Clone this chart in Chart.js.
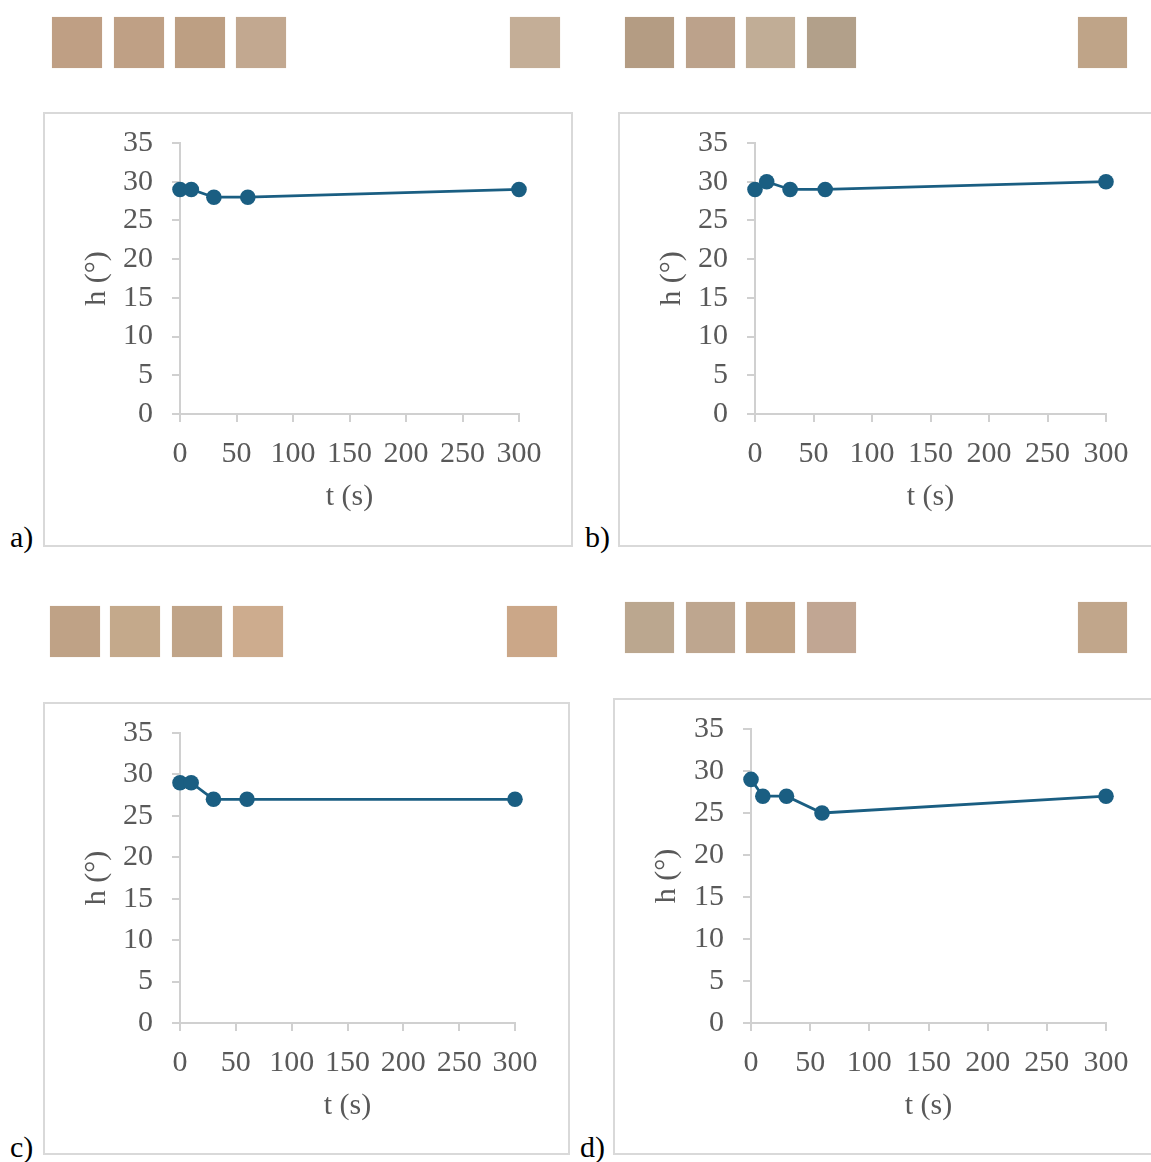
<!DOCTYPE html>
<html>
<head>
<meta charset="utf-8">
<script src="https://cdn.jsdelivr.net/npm/chart.js@4/dist/chart.umd.min.js"></script>
<style>
  html, body { margin: 0; padding: 0; background: #fff; overflow: hidden; }
  body { width: 1151px; height: 1162px; position: relative; font-family: "Liberation Serif", "Times New Roman", serif; }
  .frame { position: absolute; box-sizing: border-box; border: 2px solid #d9d9d9; pointer-events: none; }
  .holder { position: absolute; }
  .swatch { position: absolute; box-shadow: 0 0 1px #e8dccf; }
  .tag { position: absolute; font-size: 30px; line-height: 30px; color: #000; }
</style>
</head>
<body>
<script>
// sampling times (s)
const times = [0, 10, 30, 60, 300];

// hue angle h (°) for each sample
const hueA = [29, 29, 28, 28, 29];
const hueB = [29, 30, 29, 29, 30];
const hueC = [29, 29, 27, 27, 27];
const hueD = [29, 27, 27, 25, 27];

// axis ranges / tick steps
const xRange = [0, 300];
const xStep = 50;
const yRange = [0, 35];
const yStep = 5;

const xTitle = 't (s)';
const yTitle = 'h (°)';

// colour of the sample photos above each plot
const swatchesA = ['#bf9f84', '#bfa085', '#bd9f83', '#c2a890', '#c4ae97'];
const swatchesB = ['#b49c83', '#bca28b', '#c1ad96', '#b2a08a', '#bfa488'];
const swatchesC = ['#bfa286', '#c4a98b', '#c0a488', '#cdac8e', '#cba788'];
const swatchesD = ['#bba78f', '#bea68f', '#c0a387', '#c1a693', '#c1a68b'];

const lineColor = '#1a5e82';
const axisColor = '#d0d0d0';
const textColor = '#595959';
const fontSize = 30;

const panels = [
    { tag: 'a)', tagPos: [10, 522], values: hueA, swatches: swatchesA,
      swTop: 17, swLefts: [52, 114, 175, 236, 510], swW: 50, swH: 51,
      frame: { x: 43, y: 112, w: 530, h: 435 },
      plot: { l: 180, t: 143, r: 519, b: 414 }, yTitleX: 97, xTitleY: 497 },
    { tag: 'b)', tagPos: [585, 522], values: hueB, swatches: swatchesB,
      swTop: 17, swLefts: [625, 686, 746, 807, 1078], swW: 49, swH: 51,
      frame: { x: 618, y: 112, w: 560, h: 435 },
      plot: { l: 755, t: 143, r: 1106, b: 414 }, yTitleX: 672, xTitleY: 497 },
    { tag: 'c)', tagPos: [10, 1132], values: hueC, swatches: swatchesC,
      swTop: 606, swLefts: [50, 110, 172, 233, 507], swW: 50, swH: 51,
      frame: { x: 43, y: 702, w: 527, h: 453 },
      plot: { l: 180, t: 733, r: 515, b: 1023 }, yTitleX: 97, xTitleY: 1106 },
    { tag: 'd)', tagPos: [580, 1132], values: hueD, swatches: swatchesD,
      swTop: 602, swLefts: [625, 686, 746, 807, 1078], swW: 49, swH: 51,
      frame: { x: 613, y: 698, w: 560, h: 457 },
      plot: { l: 751, t: 729, r: 1106, b: 1023 }, yTitleX: 667, xTitleY: 1106 }
];

const makePanel = (p) => {
    const f = p.frame;

    p.swatches.forEach((c, i) => {
        const sw = document.createElement('div');
        sw.className = 'swatch';
        sw.style.cssText = `left:${p.swLefts[i]}px;top:${p.swTop}px;width:${p.swW}px;height:${p.swH}px;background:${c};`;
        document.body.appendChild(sw);
    });

    const holder = document.createElement('div');
    holder.className = 'holder';
    holder.style.cssText = `left:${f.x}px;top:${f.y}px;width:${f.w}px;height:${f.h}px;`;
    const canvas = document.createElement('canvas');
    canvas.width = f.w;
    canvas.height = f.h;
    canvas.style.width = f.w + 'px';
    canvas.style.height = f.h + 'px';
    canvas.style.display = 'block';
    holder.appendChild(canvas);
    document.body.appendChild(holder);

    const frame = document.createElement('div');
    frame.className = 'frame';
    frame.style.cssText = `left:${f.x}px;top:${f.y}px;width:${f.w}px;height:${f.h}px;`;
    document.body.appendChild(frame);

    const tag = document.createElement('div');
    tag.className = 'tag';
    tag.textContent = p.tag;
    tag.style.left = p.tagPos[0] + 'px';
    tag.style.top = p.tagPos[1] + 'px';
    document.body.appendChild(tag);

    const yAxisWidth = p.plot.l - f.x;
    const xAxisHeight = f.h - (p.plot.b - f.y);
    const half = fontSize / 2;

    new Chart(canvas, {
        type: 'line',
        data: {
            datasets: [{
                data: times.map((t, i) => ({ x: t, y: p.values[i] })),
                borderColor: lineColor,
                backgroundColor: lineColor,
                borderWidth: 2.8,
                pointRadius: 7.8,
                pointHoverRadius: 7.8,
                pointBorderWidth: 0,
                tension: 0,
                clip: false
            }]
        },
        options: {
            responsive: false,
            animation: false,
            events: [],
            layout: {
                padding: { left: 0, top: p.plot.t - f.y, right: f.w - (p.plot.r - f.x), bottom: 0 }
            },
            plugins: {
                legend: { display: false },
                tooltip: { enabled: false }
            },
            scales: {
                x: {
                    type: 'linear',
                    min: xRange[0],
                    max: xRange[1],
                    afterFit: (scale) => {
                        scale.height = xAxisHeight;
                        scale.paddingLeft = 0;
                        scale.paddingRight = 0;
                    },
                    ticks: {
                        stepSize: xStep,
                        autoSkip: false,
                        maxRotation: 0,
                        padding: 14,
                        color: textColor,
                        font: { family: 'Liberation Serif', size: fontSize }
                    },
                    grid: { drawOnChartArea: false, drawTicks: true, tickLength: 8, color: axisColor, lineWidth: 2 },
                    border: { color: axisColor, width: 2 },
                    title: {
                        display: true,
                        text: xTitle,
                        color: textColor,
                        font: { family: 'Liberation Serif', size: fontSize, lineHeight: 1 },
                        padding: { top: 0, bottom: (f.y + f.h) - p.xTitleY - half }
                    }
                },
                y: {
                    min: yRange[0],
                    max: yRange[1],
                    afterFit: (scale) => {
                        scale.width = yAxisWidth;
                        scale.paddingTop = 0;
                        scale.paddingBottom = 0;
                    },
                    ticks: {
                        stepSize: yStep,
                        autoSkip: false,
                        padding: 19,
                        color: textColor,
                        font: { family: 'Liberation Serif', size: fontSize }
                    },
                    grid: { drawOnChartArea: false, drawTicks: true, tickLength: 8, color: axisColor, lineWidth: 2 },
                    border: { color: axisColor, width: 2 },
                    title: {
                        display: true,
                        text: yTitle,
                        color: textColor,
                        font: { family: 'Liberation Serif', size: fontSize, lineHeight: 1 },
                        padding: { top: p.yTitleX - f.x - half, bottom: 0 }
                    }
                }
            }
        }
    });
};

panels.forEach(makePanel);
</script>
</body>
</html>
